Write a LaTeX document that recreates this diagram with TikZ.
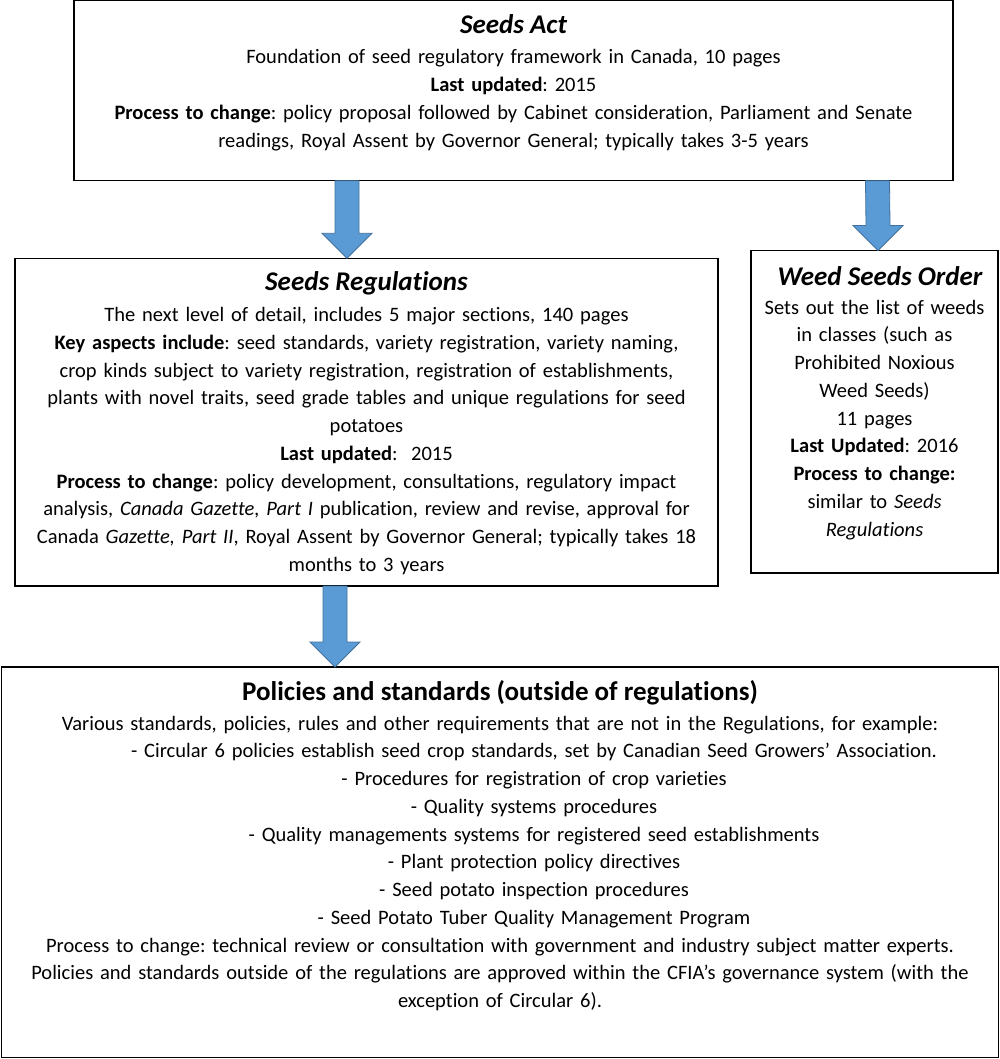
\documentclass[tikz,border=0pt]{standalone}
\usepackage{fontspec}
\setmainfont{Carlito}[Ligatures=NoCommon]
\frenchspacing
\usetikzlibrary{calc}
\definecolor{arrowfill}{HTML}{5B9BD5}
\definecolor{arrowline}{HTML}{41719C}
\tikzset{
  box/.style={draw=black, line width=1.2pt, fill=none, inner sep=0pt, outer sep=0pt},
  titlesty/.style={inner sep=0pt, font=\fontsize{27}{32}\selectfont\bfseries\itshape},
  bigtitle/.style={inner sep=0pt, font=\fontsize{27}{30}\selectfont\bfseries},
  bodysty/.style={inner sep=0pt, align=center, font=\fontsize{20.5}{27.75}\selectfont},
  arrowsty/.style={fill=arrowfill, draw=arrowline, line width=0.8pt, line join=miter},
}
\newcommand\blockarrow[2]{%
  \draw[arrowsty] ($(#1)+(-12,0)$) -- ($(#2)+(-12,-25)$) -- ($(#2)+(-25,-25)$) -- (#2)
    -- ($(#2)+(25,-25)$) -- ($(#2)+(12,-25)$) -- ($(#1)+(12,0)$) -- cycle;}
\begin{document}
\begin{tikzpicture}[x=1pt, y=-1pt]
\useasboundingbox[fill=white] (0,0) rectangle (1000,1059);
% boxes
\node[box, minimum width=879, minimum height=180] (act) at (513.5,90.7) {};
\node[box, minimum width=703, minimum height=327.7] (regs) at (366.5,422.15) {};
\node[box, minimum width=247, minimum height=322.5] (weed) at (874.5,411.75) {};
\node[box, minimum width=997, minimum height=390.5] (pol) at (500,862.25) {};
% Seeds Act
\node[titlesty, anchor=base] (actT) at (513.5,33.5) {Seeds Act};
\node[bodysty, text width=870, anchor=base] (actB) at (513.5,64) {%
Foundation of seed regulatory framework in Canada, 10 pages\\
\textbf{Last updated}: 2015\\
\textbf{Process to change}: policy proposal followed by Cabinet consideration, Parliament and Senate\\
readings, Royal Assent by Governor General; typically takes 3-5 years};
% Seeds Regulations
\node[titlesty, anchor=base] (regsT) at (366.5,290) {Seeds Regulations};
\node[bodysty, text width=700, anchor=base] (regsB) at (366.5,321.7) {%
The next level of detail, includes 5 major sections, 140 pages\\
\textbf{Key aspects include}: seed standards, variety registration, variety naming,\\
crop kinds subject to variety registration, registration of establishments,\\
plants with novel traits, seed grade tables and unique regulations for seed\\
potatoes\\
\textbf{Last updated}:\ \ 2015\\
\textbf{Process to change}: policy development, consultations, regulatory impact\\
analysis, \textit{Canada Gazette, Part I} publication, review and revise, approval for\\
Canada \textit{Gazette, Part II}, Royal Assent by Governor General; typically takes 18\\
months to 3 years};
% Weed Seeds Order
\node[titlesty, anchor=base] (weedT) at (880,285.7) {Weed Seeds Order};
\node[bodysty, text width=245, anchor=base] (weedB) at (874.5,314) {%
Sets out the list of weeds\\
in classes (such as\\
Prohibited Noxious\\
Weed Seeds)\\
11 pages\\
\textbf{Last Updated}: 2016\\
\textbf{Process to change:}\\
similar to \textit{Seeds}\\
\textit{Regulations}};
% Policies and standards
\node[bigtitle, anchor=base] (polT) at (500,700.7) {Policies and standards (outside of regulations)};
\node[bodysty, text width=990, anchor=base] (polB) at (500,730) {%
Various standards, policies, rules and other requirements that are not in the Regulations, for example:\\
\hspace*{68pt}- Circular 6 policies establish seed crop standards, set by Canadian Seed Growers’ Association.\\
\hspace*{68pt}- Procedures for registration of crop varieties\\
\hspace*{68pt}- Quality systems procedures\\
\hspace*{68pt}- Quality managements systems for registered seed establishments\\
\hspace*{68pt}- Plant protection policy directives\\
\hspace*{68pt}- Seed potato inspection procedures\\
\hspace*{68pt}- Seed Potato Tuber Quality Management Program\\
Process to change: technical review or consultation with government and industry subject matter experts.\\
Policies and standards outside of the regulations are approved within the CFIA’s governance system (with the\\
exception of Circular 6).};
% arrows
\coordinate (a1s) at ([xshift=-166.5]act.south);
\coordinate (a1e) at ([xshift=-19.5]regs.north);
\coordinate (a2s) at ([xshift=364]act.south);
\coordinate (a2e) at ([xshift=3.5]weed.north);
\coordinate (a3s) at ([xshift=-31.5]regs.south);
\coordinate (a3e) at ([xshift=-165]pol.north);
\blockarrow{a1s}{a1e}
\blockarrow{a2s}{a2e}
\blockarrow{a3s}{a3e}
\end{tikzpicture}
\end{document}
